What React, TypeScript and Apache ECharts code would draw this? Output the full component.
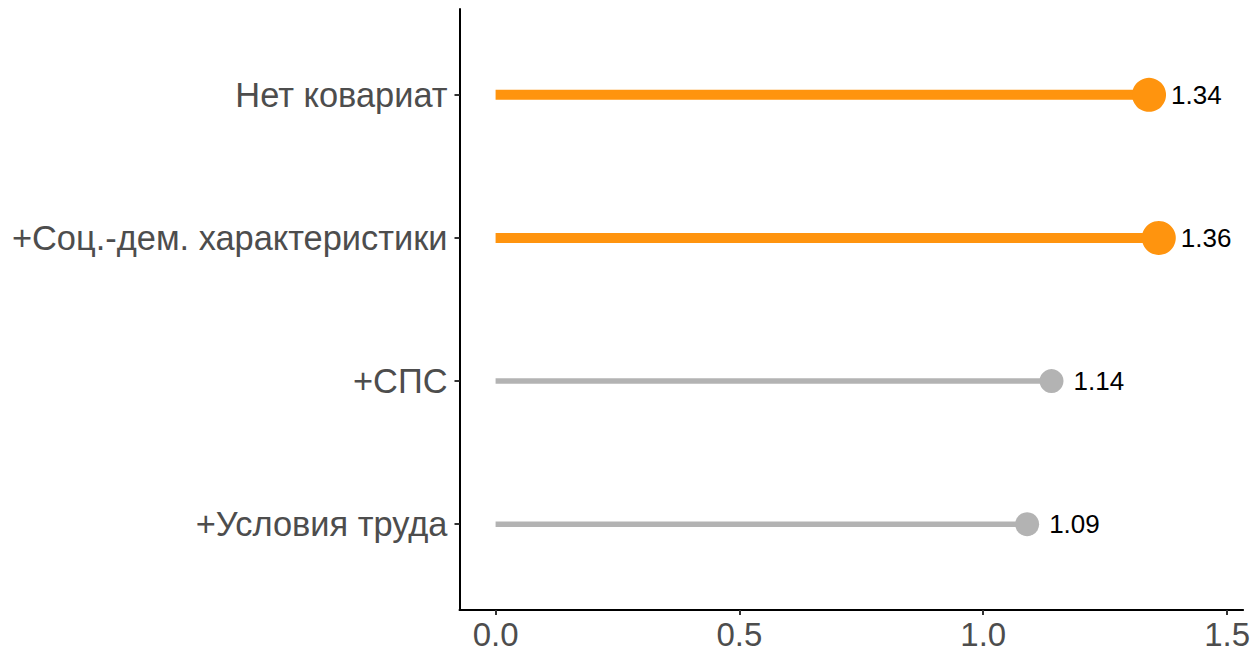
import React, { useEffect, useRef } from "react";
import * as echarts from "echarts";

const categories = ["Нет ковариат", "+Соц.-дем. характеристики", "+СПС", "+Условия труда"];
const values = [1.34, 1.36, 1.14, 1.09];
const highlighted = [true, true, false, false];
const xTicks = [0, 0.5, 1, 1.5];
const xTickLabels = ["0.0", "0.5", "1.0", "1.5"];

const ORANGE = "#FF940E";
const GREY = "#B3B3B3";
const FONT = "Liberation Sans";

export default function App() {
  const ref = useRef<HTMLDivElement>(null);
  useEffect(() => {
    if (!ref.current) return;
    const chart = echarts.init(ref.current, undefined, { renderer: "svg" });
    const yPos = categories.map((_, i) => i + 1);
    const lineData = values.map((v, i) => [v, yPos[i], highlighted[i] ? 1 : 0]);
    const pointData = values.map((v, i) => ({
      value: [v, yPos[i]],
      symbolSize: highlighted[i] ? 34 : 24,
      itemStyle: { color: highlighted[i] ? ORANGE : GREY, opacity: 1 },
      label: {
        show: true,
        position: "right",
        distance: highlighted[i] ? 5 : 10,
        formatter: v.toFixed(2),
        color: "#000000",
        fontFamily: FONT,
        fontSize: 26,
      },
    }));
    chart.setOption({
      animation: false,
      backgroundColor: "#ffffff",
      grid: { left: 459.5, top: 9, right: 1253 - 1246, bottom: 652 - 610, containLabel: false },
      xAxis: {
        type: "value",
        min: -0.074,
        max: 1.533,
        splitLine: { show: false },
        axisLine: { show: true, onZero: false, lineStyle: { color: "#000", width: 2 } },
        axisTick: { show: true, customValues: xTicks, length: 5, lineStyle: { color: "#333", width: 2 } },
        axisLabel: {
          customValues: xTicks,
          formatter: (v: number) => xTickLabels[xTicks.indexOf(v)] ?? "",
          color: "#4D4D4D",
          fontFamily: FONT,
          fontSize: 33,
          margin: 8,
        },
      },
      yAxis: {
        type: "value",
        min: 0.4,
        max: 4.6,
        inverse: true,
        splitLine: { show: false },
        axisLine: { show: true, onZero: false, lineStyle: { color: "#000", width: 2 } },
        axisTick: { show: true, customValues: yPos, length: 5, lineStyle: { color: "#333", width: 2 } },
        axisLabel: {
          customValues: yPos,
          formatter: (v: number) => categories[Math.round(v) - 1] ?? "",
          color: "#4D4D4D",
          fontFamily: FONT,
          fontSize: 34.4,
          margin: 12,
        },
      },
      series: [
        {
          type: "custom",
          data: lineData,
          renderItem: (params: any, api: any) => {
            const v = api.value(0);
            const y = api.value(1);
            const hl = api.value(2) === 1;
            const p0 = api.coord([0, y]);
            const p1 = api.coord([v, y]);
            return {
              type: "line",
              shape: { x1: p0[0], y1: p0[1], x2: p1[0], y2: p1[1] },
              style: { stroke: hl ? ORANGE : GREY, lineWidth: hl ? 10 : 5.5, lineCap: "butt" },
            };
          },
          z: 2,
        },
        {
          type: "scatter",
          data: pointData,
          z: 3,
          itemStyle: { opacity: 1 },
        },
      ],
    });
    return () => chart.dispose();
  }, []);
  return (
    <div
      ref={ref}
      style={{ position: "fixed", left: 0, top: 0, width: 1253, height: 652, background: "#fff" }}
    />
  );
}
